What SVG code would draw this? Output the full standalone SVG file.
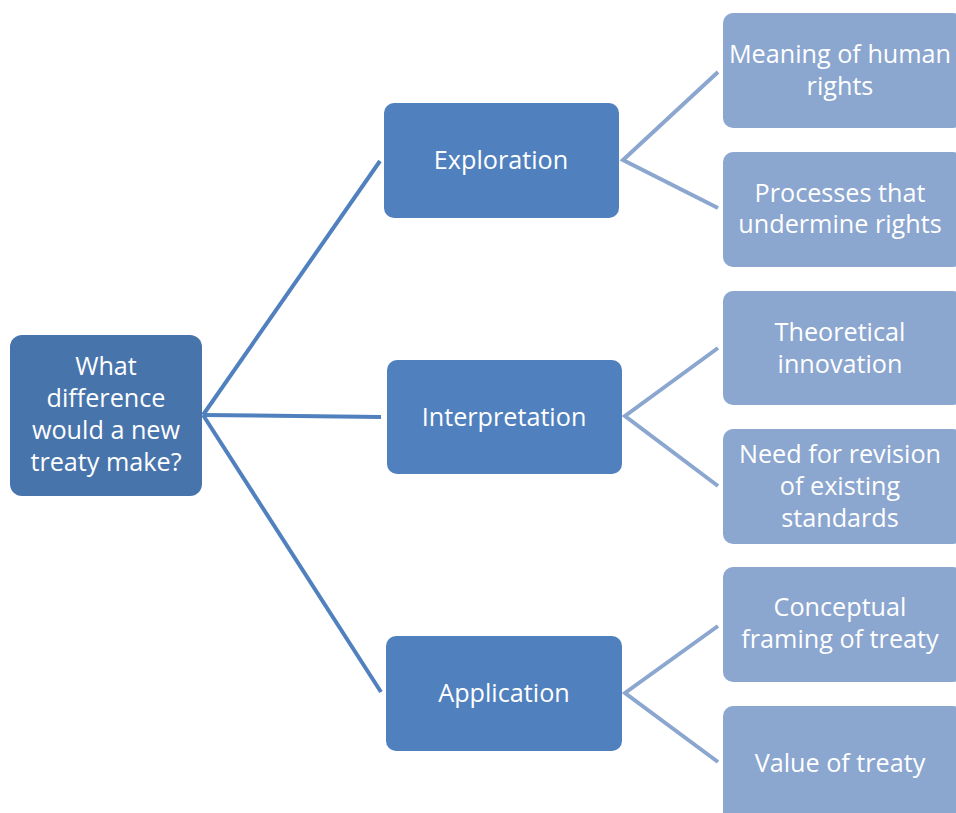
<svg xmlns="http://www.w3.org/2000/svg" width="956" height="813" viewBox="0 0 956 813">
  <style>
    .root { fill: #4874AC; }
    .mid { fill: #5081BE; }
    .leaf { fill: #8BA6CF; }
    .l1 { stroke: #5081BE; stroke-width: 4; fill: none; }
    .l2 { stroke: #8BA6CF; stroke-width: 4; fill: none; }
    text { font-family: "Open Sans", "Liberation Sans", sans-serif; font-size: 25.2px; fill: #FFFFFF; text-anchor: middle; }
  </style>
  <rect width="956" height="813" fill="#FFFFFF"/>

  <!-- connectors -->
  <g id="connectors">
    <line class="l1" x1="203" y1="415" x2="380" y2="161"/>
    <line class="l1" x1="203" y1="415" x2="381" y2="417"/>
    <line class="l1" x1="203" y1="415" x2="381" y2="692"/>
    <polyline class="l2" points="718,72 623,160 718,208"/>
    <polyline class="l2" points="718,348 625,416 718,486"/>
    <polyline class="l2" points="718,626 625,693 718,762"/>
  </g>

  <!-- root -->
  <g id="root">
    <rect class="root" x="10" y="335" width="192" height="161" rx="12"/>
    <text x="106" y="375">What</text>
    <text x="106" y="407">difference</text>
    <text x="106" y="439">would a new</text>
    <text x="106" y="471">treaty make?</text>
  </g>

  <!-- second level -->
  <g id="exploration">
    <rect class="mid" x="384" y="103" width="235" height="115" rx="10"/>
    <text x="501" y="169">Exploration</text>
  </g>
  <g id="interpretation">
    <rect class="mid" x="387" y="360" width="235" height="114" rx="10"/>
    <text x="504" y="426">Interpretation</text>
  </g>
  <g id="application">
    <rect class="mid" x="386" y="636" width="236" height="115" rx="10"/>
    <text x="504" y="702">Application</text>
  </g>

  <!-- leaves -->
  <g id="meaning">
    <rect class="leaf" x="723" y="13" width="240" height="115" rx="10"/>
    <text x="840" y="63">Meaning of human</text>
    <text x="840" y="95">rights</text>
  </g>
  <g id="processes">
    <rect class="leaf" x="723" y="152" width="240" height="115" rx="10"/>
    <text x="840" y="202">Processes that</text>
    <text x="840" y="233">undermine rights</text>
  </g>
  <g id="theoretical">
    <rect class="leaf" x="723" y="291" width="240" height="114" rx="10"/>
    <text x="840" y="341">Theoretical</text>
    <text x="840" y="373">innovation</text>
  </g>
  <g id="revision">
    <rect class="leaf" x="723" y="429" width="240" height="115" rx="10"/>
    <text x="840" y="463">Need for revision</text>
    <text x="840" y="495">of existing</text>
    <text x="840" y="527">standards</text>
  </g>
  <g id="framing">
    <rect class="leaf" x="723" y="567" width="240" height="115" rx="10"/>
    <text x="840" y="616">Conceptual</text>
    <text x="840" y="648">framing of treaty</text>
  </g>
  <g id="value">
    <rect class="leaf" x="723" y="706" width="240" height="125" rx="10"/>
    <text x="840" y="772">Value of treaty</text>
  </g>
</svg>
